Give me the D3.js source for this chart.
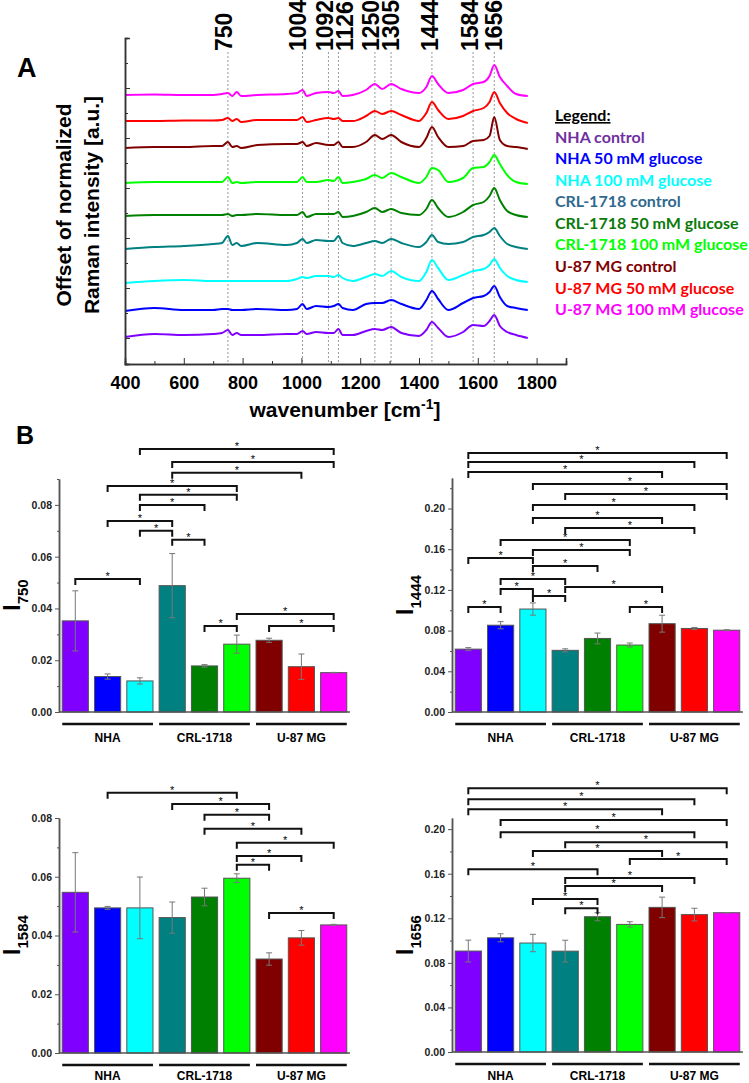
<!DOCTYPE html>
<html>
<head>
<meta charset="utf-8">
<script src="https://cdn.jsdelivr.net/npm/d3@7"></script>
<style>
  body { margin: 0; background: #fff; }
  svg text { font-family: Arial, "Liberation Sans", sans-serif; font-weight: bold; }
</style>
</head>
<body>
<div id="chart"></div>
<script>
// ---------- data: Raman spectra (panel A) ----------
var wavenumbers = [400, 500, 600, 700, 730, 750, 765, 780, 795, 850, 950, 985, 1004, 1018, 1050, 1092, 1110, 1126, 1140, 1175,
                   1220, 1250, 1275, 1305, 1340, 1400, 1425, 1444, 1465, 1500, 1550, 1584, 1620, 1640, 1656, 1675, 1700, 1730, 1770];
var specNHActrl = [0.02,0.08,0.06,0.08,0.10,0.16,0.06,0.10,0.06,0.06, 0.08,0.08,0.14,0.08,0.12,0.10,0.10,0.18,0.06,0.06,
                   0.14,0.18,0.16,0.22,0.10,0.04,0.16,0.32,0.20,0.02, 0.12,0.26,0.24,0.34,0.46,0.24,0.12,0.06,0.00];
var specNHA50   = [0.54,0.60,0.56,0.56,0.58,0.58,0.56,0.56,0.56,0.58, 0.56,0.58,0.68,0.58,0.64,0.62,0.64,0.68,0.60,0.56,
                   0.68,0.70,0.70,0.76,0.68,0.58,0.76,0.94,0.78,0.56, 0.70,0.80,0.84,0.92,1.04,0.82,0.64,0.60,0.56];
var specNHA100  = [1.10,1.14,1.16,1.14,1.14,1.14,1.14,1.14,1.14,1.14, 1.14,1.18,1.22,1.20,1.24,1.24,1.22,1.26,1.20,1.14,
                   1.22,1.28,1.24,1.34,1.22,1.14,1.32,1.56,1.40,1.16, 1.26,1.34,1.38,1.46,1.58,1.40,1.24,1.16,1.12];
var specCRLctrl = [1.78,1.82,1.84,1.88,1.90,2.04,1.86,1.90,1.84,1.90, 1.86,1.90,1.98,1.90,1.96,1.94,1.94,2.04,1.90,1.84,
                   1.90,1.94,1.90,1.98,1.90,1.82,1.92,2.06,1.92,1.88, 1.92,2.02,2.06,2.12,2.20,2.04,1.88,1.82,1.78];
var specCRL50   = [2.44,2.46,2.46,2.46,2.46,2.48,2.44,2.46,2.46,2.48, 2.46,2.46,2.52,2.42,2.48,2.48,2.48,2.52,2.42,2.44,
                   2.52,2.60,2.52,2.58,2.50,2.46,2.58,2.76,2.60,2.42, 2.52,2.66,2.72,2.84,3.00,2.76,2.54,2.46,2.42];
var specCRL100  = [3.10,3.12,3.12,3.12,3.12,3.22,3.10,3.12,3.10,3.12, 3.12,3.12,3.22,3.12,3.12,3.16,3.14,3.22,3.10,3.12,
                   3.18,3.26,3.20,3.30,3.22,3.10,3.22,3.40,3.36,3.12, 3.20,3.40,3.42,3.52,3.66,3.48,3.26,3.12,3.08];
var specU87ctrl = [3.80,3.82,3.82,3.84,3.84,3.92,3.82,3.84,3.80,3.86, 3.88,3.88,3.92,3.84,3.90,3.86,3.86,3.92,3.82,3.82,
                   3.92,4.06,3.98,4.06,3.92,3.82,4.00,4.22,4.02,3.82, 3.84,3.94,3.96,4.04,4.42,3.96,3.84,3.82,3.78];
var specU8750   = [4.34,4.34,4.35,4.35,4.36,4.40,4.34,4.38,4.32,4.36, 4.36,4.36,4.42,4.32,4.36,4.40,4.38,4.40,4.34,4.34,
                   4.44,4.54,4.48,4.54,4.46,4.34,4.50,4.72,4.56,4.38, 4.44,4.54,4.60,4.72,4.92,4.70,4.50,4.38,4.30];
var specU87100  = [4.86,4.87,4.86,4.86,4.88,4.90,4.84,4.92,4.84,4.86, 4.88,4.90,4.96,4.84,4.90,4.92,4.90,4.94,4.84,4.86,
                   4.96,5.08,4.98,5.08,4.98,4.90,5.02,5.24,5.08,4.90, 4.96,5.08,5.12,5.24,5.46,5.22,5.04,4.88,4.84];
var peakBands = [750, 1004, 1092, 1126, 1250, 1305, 1444, 1584, 1656];
var xTicksA = [400, 600, 800, 1000, 1200, 1400, 1600, 1800];

// ---------- data: band intensities (panel B) ----------
var sampleNames = ["NHA control", "NHA 50 mM glucose", "NHA 100 mM glucose",
                   "CRL-1718 control", "CRL-1718 50 mM glucose", "CRL-1718 100 mM glucose",
                   "U-87 MG control", "U-87 MG 50 mM glucose", "U-87 MG 100 mM glucose"];
var cellLines = ["NHA", "CRL-1718", "U-87 MG"];
var i750   = [0.0352, 0.0137, 0.0120, 0.0488, 0.0178, 0.0262, 0.0277, 0.0175, 0.0152];
var e750   = [0.0116, 0.0010, 0.0012, 0.0124, 0.0005, 0.0035, 0.0008, 0.0049, 0.0001];
var i1444  = [0.0618, 0.0853, 0.1012, 0.0606, 0.0723, 0.0658, 0.0868, 0.0821, 0.0804];
var e1444  = [0.0015, 0.0035, 0.0060, 0.0015, 0.0053, 0.0020, 0.0083, 0.0010, 0.0005];
var i1584  = [0.0547, 0.0494, 0.0494, 0.0461, 0.0531, 0.0595, 0.0320, 0.0392, 0.0436];
var e1584  = [0.0135, 0.0005, 0.0105, 0.0053, 0.0030, 0.0015, 0.0021, 0.0025, 0.0002];
var i1656  = [0.0906, 0.1025, 0.0978, 0.0905, 0.1214, 0.1145, 0.1298, 0.1233, 0.1250];
var e1656  = [0.0098, 0.0036, 0.0078, 0.0098, 0.0036, 0.0024, 0.0092, 0.0057, 0.0002];
// significant pairs: [sample a, sample b, bracket level]
var sig750  = [[2,8,0.1016],[3,8,0.0966],[3,7,0.0924],[1,5,0.0873],[2,5,0.0839],[2,4,0.0800],[1,3,0.0738],
               [2,3,0.0700],[3,4,0.0665],[0,2,0.0514],[5,8,0.0379],[4,5,0.0332],[6,8,0.0332]];
var sig1444 = [[0,8,0.2545],[0,7,0.2457],[0,6,0.2359],[2,8,0.2241],[3,8,0.2143],[2,7,0.2034],[2,6,0.1907],
               [3,7,0.1808],[1,5,0.1690],[2,5,0.1592],[0,2,0.1514],[2,4,0.1435],[1,3,0.1307],[1,2,0.1209],
               [3,6,0.1229],[2,3,0.1140],[0,1,0.1032],[5,6,0.1032]];
var sig1584 = [[1,5,0.0886],[3,6,0.0848],[4,6,0.0811],[4,7,0.0763],[5,8,0.0716],[5,7,0.0671],[5,6,0.0641],[6,8,0.0477]];
var sig1656 = [[0,8,0.2368],[0,7,0.2269],[0,6,0.2179],[1,8,0.2081],[1,7,0.1973],[3,8,0.1883],[2,6,0.1803],
               [5,8,0.1731],[0,4,0.1641],[3,7,0.1561],[3,6,0.1489],[2,4,0.1372],[3,4,0.1291]];

// ---------- styles ----------
var lineColors   = ["#8000ff", "#0000ff", "#00ffff", "#008080", "#008000", "#00ff00", "#800000", "#ff0000", "#ff00ff"];
var legendColors = ["#7030a0", "#0000ff", "#00ffff", "#31698f", "#0a7a0a", "#00ff00", "#7f0000", "#ff0000", "#ff00ff"];
var labelShift   = [-4, -5, -4, 6, -4, 0, -2, -3, -1]; // nudges of the peak labels so they do not overlap

var svg = d3.select("#chart").append("svg")
  .attr("width", 749)
  .attr("height", 1083);

// ================= panel A =================
var xA = d3.scaleLinear().domain([400, 1900]).range([125, 566]);
var yA = d3.scaleLinear().domain([-0.52, 6]).range([364, 38]);

// dashed guide lines at the marked bands
svg.append("g").selectAll("line")
  .data(peakBands).enter().append("line")
    .attr("x1", function(d) { return xA(d); })
    .attr("x2", function(d) { return xA(d); })
    .attr("y1", 52).attr("y2", 364)
    .attr("stroke", "#999").attr("stroke-width", 1).attr("stroke-dasharray", "2,2");

svg.append("g").selectAll("text")
  .data(peakBands).enter().append("text")
    .attr("transform", function(d, i) { return "translate(" + (xA(d) + labelShift[i]) + ",51) rotate(-90)"; })
    .attr("dy", "0.36em")
    .style("font-size", "23px")
    .text(function(d) { return d; });

// spectra
var spectra = [specNHActrl, specNHA50, specNHA100, specCRLctrl, specCRL50, specCRL100, specU87ctrl, specU8750, specU87100];
var line = d3.line()
  .x(function(d, i) { return xA(wavenumbers[i]); })
  .y(function(d) { return yA(d); })
  .curve(d3.curveMonotoneX);

svg.append("g").selectAll("path")
  .data(spectra).enter().append("path")
    .attr("d", line)
    .attr("fill", "none")
    .attr("stroke", function(d, i) { return lineColors[i]; })
    .attr("stroke-width", 2)
    .attr("stroke-linejoin", "round");

// axes of panel A (ticks point inwards)
var axAx = svg.append("g").attr("transform", "translate(0,364)")
  .call(d3.axisBottom(xA).tickValues(xTicksA).tickSize(-6).tickPadding(12).tickFormat(d3.format("d")));
axAx.append("g").call(d3.axisBottom(xA).tickValues([500, 700, 900, 1100, 1300, 1500, 1700, 1900]).tickSize(-3).tickFormat(""));
axAx.selectAll("text").style("font-size", "18px").attr("fill", "#000");

var axAy = svg.append("g").attr("transform", "translate(125,0)")
  .call(d3.axisLeft(yA).tickValues([0, 1, 2, 3, 4, 5, 6]).tickSize(-5).tickFormat(""));
axAy.append("g").call(d3.axisLeft(yA).tickValues([0.5, 1.5, 2.5, 3.5, 4.5, 5.5]).tickSize(-3).tickFormat(""));

svg.selectAll(".domain").attr("stroke", "#333").attr("stroke-width", 1.5);
axAx.selectAll("line").attr("stroke", "#333");
axAy.selectAll("line").attr("stroke", "#333");

svg.append("text").attr("x", 17).attr("y", 77).style("font-size", "27px").text("A");

var yTitle = svg.append("text")
  .attr("transform", "translate(0,205) rotate(-90)")
  .attr("text-anchor", "middle")
  .style("font-size", "21px");
yTitle.append("tspan").attr("x", 0).attr("y", 71).text("Offset of normalized");
yTitle.append("tspan").attr("x", 0).attr("y", 99).text("Raman intensity [a.u.]");

var xTitle = svg.append("text")
  .attr("x", 345).attr("y", 417)
  .attr("text-anchor", "middle")
  .style("font-size", "21px");
xTitle.append("tspan").text("wavenumber [cm");
xTitle.append("tspan").attr("dy", -8).style("font-size", "14px").text("-1");
xTitle.append("tspan").attr("dy", 8).text("]");

// legend
var legend = svg.append("g").attr("transform", "translate(555,0)");
legend.append("text").attr("y", 121).style("font-size", "16px").style("font-family", "Lato, sans-serif")
  .style("text-decoration", "underline").attr("fill", "#000").text("Legend:");
legend.selectAll("text.item")
  .data(sampleNames).enter().append("text")
    .attr("class", "item")
    .attr("y", function(d, i) { return 142.7 + i * 21.55; })
    .style("font-size", "16px")
    .style("font-family", "Lato, sans-serif")
    .attr("fill", function(d, i) { return legendColors[i]; })
    .text(function(d) { return d; });

// ================= panel B =================
svg.append("text").attr("x", 16).attr("y", 444).style("font-size", "25px").text("B");

function drawBars(values, errors, sig, band, box) {
  var x = d3.scaleBand().domain(d3.range(values.length)).range([box.x0, box.x1]).paddingInner(0.19).paddingOuter(0.1);
  var y = d3.scaleLinear().domain([0, box.max]).range([box.y0, box.yTop]);
  var g = svg.append("g");

  var majors = d3.range(0, box.max + 1e-9, box.step);
  var minors = d3.range(box.step / 2, box.max + 1e-9, box.step);
  var ax = g.append("g").attr("transform", "translate(" + box.x0 + ",0)")
    .call(d3.axisLeft(y).tickValues(majors).tickSize(4).tickSizeOuter(0).tickPadding(3).tickFormat(d3.format(".2f")));
  ax.append("g").call(d3.axisLeft(y).tickValues(minors).tickSize(2).tickSizeOuter(0).tickFormat(""));
  ax.selectAll("text").style("font-size", "10.5px").attr("fill", "#222");
  ax.selectAll("line").attr("stroke", "#555");
  ax.selectAll(".domain").attr("stroke", "#555").attr("stroke-width", 1.5);

  // bars
  g.selectAll("rect.bar")
    .data(values).enter().append("rect")
      .attr("x", function(d, i) { return x(i); })
      .attr("y", function(d) { return y(d); })
      .attr("width", x.bandwidth())
      .attr("height", function(d) { return y(0) - y(d); })
      .attr("fill", function(d, i) { return lineColors[i]; })
      .attr("stroke", "#555").attr("stroke-width", 1);

  g.append("line").attr("x1", box.x0).attr("x2", box.x1).attr("y1", y(0)).attr("y2", y(0))
    .attr("stroke", "#555").attr("stroke-width", 1.5);

  // error bars
  var eb = g.selectAll("g.err").data(values).enter().append("g")
    .attr("stroke", "#777").attr("stroke-width", 1);
  eb.append("line")
    .attr("x1", function(d, i) { return x(i) + x.bandwidth() / 2; })
    .attr("x2", function(d, i) { return x(i) + x.bandwidth() / 2; })
    .attr("y1", function(d, i) { return y(d + errors[i]); })
    .attr("y2", function(d, i) { return y(d - errors[i]); });
  [1, -1].forEach(function(s) {
    eb.append("line")
      .attr("x1", function(d, i) { return x(i) + x.bandwidth() / 2 - 3; })
      .attr("x2", function(d, i) { return x(i) + x.bandwidth() / 2 + 3; })
      .attr("y1", function(d, i) { return y(d + s * errors[i]); })
      .attr("y2", function(d, i) { return y(d + s * errors[i]); });
  });

  // significance brackets
  var br = g.selectAll("g.sig").data(sig).enter().append("g");
  br.append("path")
    .attr("d", function(d) {
      var a = x(d[0]) + x.bandwidth() / 2, b = x(d[1]) + x.bandwidth() / 2, h = y(d[2]);
      return "M" + a + "," + (h + 6) + "V" + h + "H" + b + "V" + (h + 6);
    })
    .attr("fill", "none").attr("stroke", "#111").attr("stroke-width", 2);
  br.append("text")
    .attr("x", function(d) { return (x(d[0]) + x(d[1]) + x.bandwidth()) / 2; })
    .attr("y", function(d) { return y(d[2]) + 1; })
    .attr("text-anchor", "middle")
    .attr("fill", "#000")
    .style("font-size", "11px").style("font-weight", "normal")
    .text("*");

  // cell-line group lines and names
  cellLines.forEach(function(name, k) {
    var a = x(k * 3), b = x(k * 3 + 2) + x.bandwidth();
    g.append("line").attr("x1", a).attr("x2", b).attr("y1", y(0) + 12).attr("y2", y(0) + 12)
      .attr("stroke", "#111").attr("stroke-width", 2.5);
    g.append("text").attr("x", (a + b) / 2).attr("y", y(0) + box.nameGap).attr("text-anchor", "middle")
      .style("font-size", "12px").text(name);
  });

  // y label: I with band subscript
  var t = g.append("text")
    .attr("transform", "translate(" + (box.x0 - 39) + "," + box.labelY + ") rotate(-90)")
    .attr("text-anchor", "middle");
  t.append("tspan").style("font-size", "23px").text("I");
  t.append("tspan").attr("dy", 8).style("font-size", "15px").text(band);
}

drawBars(i750,  e750,  sig750,  "750",  {x0: 59,  x1: 350, y0: 712,  yTop: 479, max: 0.09, step: 0.02, labelY: 595, nameGap: 30});
drawBars(i1444, e1444, sig1444, "1444", {x0: 452, x1: 743, y0: 712,  yTop: 478, max: 0.23, step: 0.04, labelY: 595, nameGap: 30});
drawBars(i1584, e1584, sig1584, "1584", {x0: 59,  x1: 350, y0: 1053, yTop: 818, max: 0.08, step: 0.02, labelY: 935, nameGap: 27});
drawBars(i1656, e1656, sig1656, "1656", {x0: 452, x1: 743, y0: 1052, yTop: 818, max: 0.21, step: 0.04, labelY: 935, nameGap: 28});
</script>
</body>
</html>
